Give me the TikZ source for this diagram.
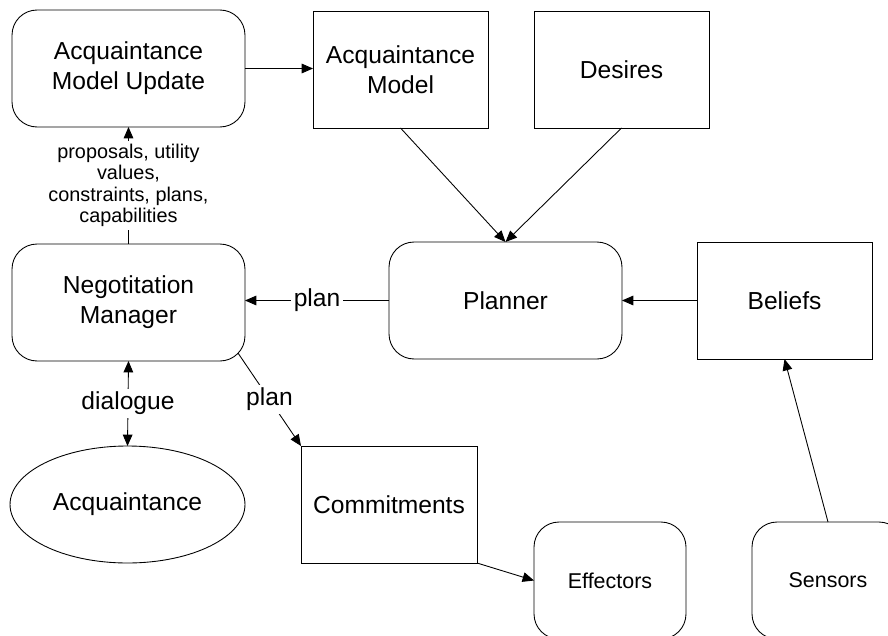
\documentclass[tikz,border=0pt]{standalone}
\usepackage{fontspec}
\setmainfont{Liberation Sans}
\usetikzlibrary{arrows.meta,shapes.geometric,calc}
\begin{document}
\begin{tikzpicture}[x=0.02cm,y=-0.02cm,line width=0.5pt,
    every node/.style={font=\fontsize{14}{17}\selectfont,align=center,outer sep=0pt},
    box/.style={draw,minimum width=3.5cm,minimum height=2.34cm},
    rbox/.style={draw,rounded corners=0.5cm,minimum width=4.66cm,minimum height=2.34cm},
    lbl/.style={fill=white,inner sep=1.5pt},
    arr/.style={-{Triangle[length=6.5pt,width=5.5pt]}},
    arrboth/.style={{Triangle[length=6.5pt,width=5.5pt]}-{Triangle[length=6.5pt,width=5.5pt]}}]
    \useasboundingbox (0,0) rectangle (888,635);
    \clip (0,0) rectangle (888,635);
    \node[rbox] (amu) at (128.5,68.5) {Acquaintance\\Model Update};
    \node[box] (am) at (400.5,69.5) {Acquaintance\\Model};
    \node[box] (des) at (621.5,69.5) {Desires};
    \node[rbox] (plan) at (505.5,300.5) {Planner};
    \node[box] (bel) at (784.5,300.5) {Beliefs};
    \node[rbox] (nm) at (128.5,302.5) {Negotitation\\Manager};
    \node[draw,ellipse,minimum width=4.7cm,minimum height=2.34cm] (acq) at (127.5,504.5) {Acquaintance};
    \node[box,minimum width=3.52cm] (com) at (389,504.5) {Commitments};
    \node[rbox,minimum width=3.04cm,font=\fontsize{12.2}{14}\selectfont] (eff) at (610,580.5) {Effectors};
    \node[rbox,minimum width=3.04cm,font=\fontsize{12.2}{14}\selectfont] (sen) at (828,580.5) {Sensors};
    \draw[arr] (amu.east) -- (amu.east -| am.west);
    \draw[arr] (am.south) -- (plan.north);
    \draw[arr] (des.south) -- (plan.north);
    \draw[arr] (bel.west) -- (plan.east);
    \draw[arr] (plan.west) -- node[lbl]{plan} (plan.west -| nm.east);
    \draw[arr] (nm.north) -- node[lbl,font=\fontsize{11.3}{12.2}\selectfont]{proposals, utility\\values,\\constraints, plans,\\capabilities} (amu.south);
    \draw[arrboth] (nm.south) -- node[lbl]{dialogue} (acq.north);
    \draw[arr] ($(nm.south east)+(-7,-8)$) -- node[lbl]{plan} (com.north west);
    \draw[arr] (com.south east) -- (eff.west);
    \draw[arr] (sen.north) -- (bel.south);
\end{tikzpicture}
\end{document}
